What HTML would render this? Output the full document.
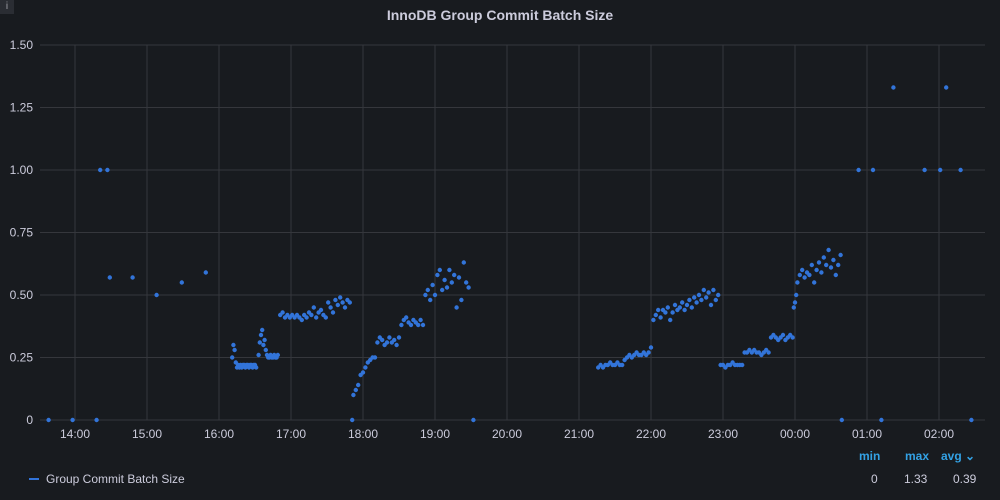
<!DOCTYPE html>
<html><head><meta charset="utf-8"><style>
body{margin:0;background:#181b1f;font-family:"Liberation Sans",sans-serif;}
#wrap{position:relative;width:1000px;height:500px;background:#181b1f;overflow:hidden}
.t{position:absolute;color:#ccccdc;font-size:12px}
.h{position:absolute;color:#33a2e5;font-size:12px;font-weight:bold}
</style></head><body>
<div id="wrap">
<div class="t" style="left:0;width:1000px;text-align:center;top:7px;font-size:14px;font-weight:bold">InnoDB Group Commit Batch Size</div>
<div style="position:absolute;left:0;top:0;width:14px;height:14px;background:#2a2d33;color:#9fa0a6;font-size:10px;text-align:center;line-height:14px">i</div>
<svg id="chart" width="1000" height="500" style="position:absolute;left:0;top:0"></svg>
<div style="position:absolute;left:29px;top:478px;width:10px;height:2px;background:#3274d9"></div>
<div class="t" style="left:46px;top:472px">Group Commit Batch Size</div>
<div class="h" style="left:859px;top:449px">min</div>
<div class="h" style="left:905px;top:449px">max</div>
<div class="h" style="left:941px;top:449px">avg ⌄</div>
<div class="t" style="left:871px;top:472px">0</div>
<div class="t" style="left:904px;top:472px">1.33</div>
<div class="t" style="left:953px;top:472px">0.39</div>
</div>
<script>
const yTicks=[0,0.25,0.5,0.75,1.0,1.25,1.5];
const yTickLabels=["0","0.25","0.50","0.75","1.00","1.25","1.50"];
const xTicks=[0,60,120,180,240,300,360,420,480,540,600,660,720];
const xTickLabels=["14:00","15:00","16:00","17:00","18:00","19:00","20:00","21:00","22:00","23:00","00:00","01:00","02:00"];
const times=[-22,-2,18,21,27,29,48,68,89,109,
131,132,133,134,135,136,137,138,139,140,141,142,143,144,145,146,147,148,149,150,151,
153,154,155,156,157,158,159,160,161,162,163,164,165,166,167,168,169,
171,173,175,177,179,181,183,185,187,189,191,193,195,197,199,201,203,205,207,209,211,213,215,217,219,221,223,225,227,229,
231,232,234,236,238,240,242,244,246,248,250,
252,254,256,258,260,262,264,266,268,270,
272,274,276,278,280,282,284,286,288,290,
292,294,296,298,300,302,304,306,308,310,312,314,316,318,320,322,324,326,328,332,
436,438,440,442,444,446,448,450,452,454,456,458,460,462,464,466,468,470,472,474,476,478,480,
482,484,486,488,490,492,494,496,498,500,502,504,506,508,510,512,514,516,518,520,522,524,526,528,530,532,534,536,
538,540,542,544,546,548,550,552,554,556,558,560,562,564,566,568,570,572,574,576,578,
580,582,584,586,588,590,592,594,596,598,599,600,601,602,
604,606,608,610,612,614,616,618,620,622,624,626,628,630,632,634,636,638,
639,653,665,672,682,708,721,726,738,747];
const values=[0,0,0,1,1,0.57,0.57,0.5,0.55,0.59,
0.25,0.30,0.28,0.23,0.21,0.22,0.21,0.22,0.21,0.22,0.22,0.21,0.22,0.22,0.21,0.22,0.22,0.21,0.22,0.22,0.21,
0.26,0.31,0.34,0.36,0.30,0.32,0.28,0.26,0.25,0.25,0.26,0.25,0.25,0.26,0.25,0.25,0.26,
0.42,0.43,0.41,0.42,0.41,0.42,0.41,0.42,0.41,0.40,0.42,0.41,0.43,0.42,0.45,0.41,0.43,0.44,0.42,0.41,0.47,0.45,0.43,0.48,0.46,0.49,0.47,0.45,0.48,0.47,
0,0.10,0.12,0.14,0.18,0.19,0.21,0.23,0.24,0.25,0.25,
0.31,0.33,0.32,0.30,0.31,0.33,0.31,0.32,0.30,0.33,
0.38,0.40,0.41,0.39,0.38,0.40,0.39,0.38,0.40,0.38,
0.50,0.52,0.48,0.54,0.50,0.58,0.60,0.52,0.56,0.53,0.60,0.55,0.58,0.45,0.57,0.48,0.63,0.55,0.53,0,
0.21,0.22,0.21,0.22,0.22,0.23,0.22,0.22,0.23,0.22,0.22,0.24,0.25,0.26,0.25,0.26,0.27,0.26,0.26,0.27,0.26,0.27,0.29,
0.40,0.42,0.44,0.41,0.44,0.43,0.45,0.40,0.43,0.46,0.44,0.45,0.47,0.44,0.46,0.48,0.45,0.49,0.47,0.50,0.48,0.52,0.49,0.51,0.46,0.52,0.48,0.50,
0.22,0.22,0.21,0.22,0.22,0.23,0.22,0.22,0.22,0.22,0.27,0.27,0.28,0.27,0.28,0.27,0.27,0.26,0.27,0.28,0.27,
0.33,0.34,0.33,0.32,0.33,0.34,0.32,0.33,0.34,0.33,0.45,0.47,0.50,0.55,
0.58,0.60,0.57,0.59,0.58,0.62,0.55,0.60,0.63,0.59,0.65,0.62,0.68,0.61,0.64,0.58,0.62,0.66,
0,1,1,0,1.33,1,1,1.33,1,0];
const L=40,R=985,T=45,B=420;
const x0=75,pxPerMin=72/60;
function xs(m){return x0+m*pxPerMin;}
function ys(v){return B-(v/1.5)*(B-T);}
const svg=document.getElementById('chart');
const NS='http://www.w3.org/2000/svg';
function mk(t,a){const e=document.createElementNS(NS,t);for(const k in a)e.setAttribute(k,a[k]);svg.appendChild(e);return e;}
yTicks.forEach((v,i)=>{
const l=mk('line',{x1:L,x2:R,y1:ys(v),y2:ys(v),stroke:'#35373c','stroke-width':1});


const t=mk('text',{x:33,y:ys(v)+4,'text-anchor':'end',fill:'#ccccdc','font-size':12,'font-family':'Liberation Sans, sans-serif'});
t.textContent=yTickLabels[i];


});
xTicks.forEach((m,i)=>{
const l=mk('line',{x1:xs(m),x2:xs(m),y1:T,y2:B,stroke:'#35373c','stroke-width':1});


const t=mk('text',{x:xs(m),y:438,'text-anchor':'middle',fill:'#ccccdc','font-size':12,'font-family':'Liberation Sans, sans-serif'});
t.textContent=xTickLabels[i];


});
times.forEach((m,i)=>{
const c=mk('circle',{cx:xs(m),cy:ys(values[i]),r:2.2,fill:'#3274d9'});


});
</script>
</body></html>
